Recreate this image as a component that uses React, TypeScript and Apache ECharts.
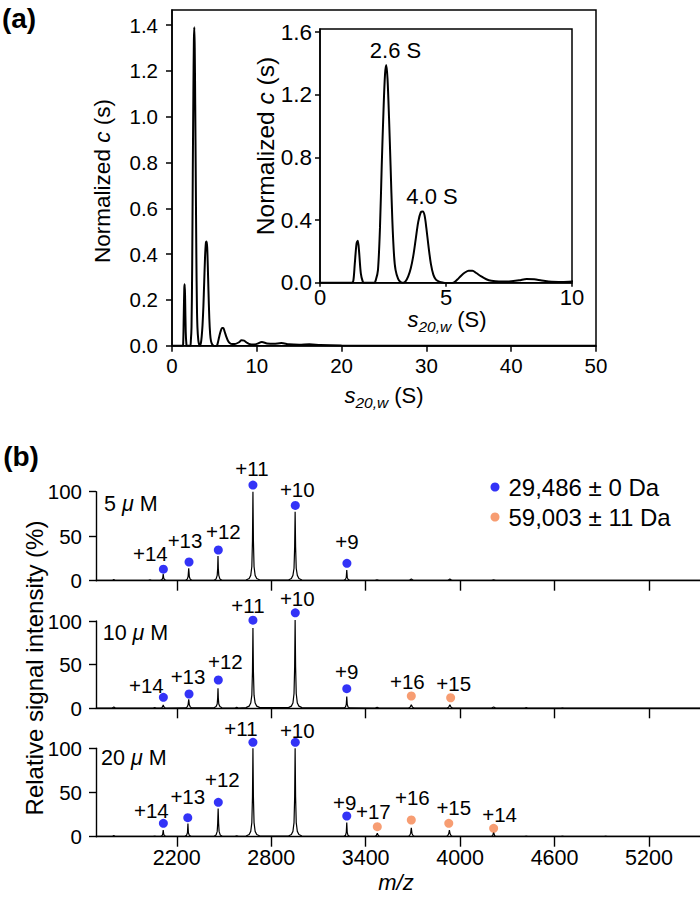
import React, { useEffect, useRef } from "react";
import * as echarts from "echarts";

// ---------------- Panel (a): c(s) distribution ----------------
const S_VALUES = [0, 1.25, 1.32, 1.38, 1.45, 1.5, 1.55, 1.62, 1.7, 1.75, 2.15, 2.22, 2.3, 2.38, 2.45, 2.52, 2.58, 2.63, 2.68, 2.74, 2.8, 2.87, 2.94, 3.0, 3.1, 3.2, 3.3, 3.4, 3.5, 3.6, 3.7, 3.8, 3.9, 4.0, 4.08, 4.15, 4.22, 4.3, 4.4, 4.5, 4.6, 4.75, 4.9, 5.1, 5.3, 5.45, 5.6, 5.75, 5.9, 6.05, 6.2, 6.4, 6.6, 6.8, 7.1, 7.5, 7.9, 8.2, 8.5, 8.8, 9.2, 9.6, 10.0, 10.6, 11.2, 12.0, 12.9, 13.8, 15, 16.2, 17.5, 20, 25, 50];
const C_VALUES = [0, 0, 0.01, 0.12, 0.25, 0.268, 0.2, 0.06, 0.005, 0, 0, 0.02, 0.08, 0.35, 0.75, 1.1, 1.33, 1.39, 1.3, 1.05, 0.75, 0.4, 0.17, 0.08, 0.025, 0.005, 0, 0.01, 0.04, 0.09, 0.17, 0.28, 0.39, 0.45, 0.455, 0.43, 0.35, 0.24, 0.12, 0.05, 0.02, 0.005, 0, -0.005, 0, 0.02, 0.045, 0.065, 0.077, 0.077, 0.062, 0.04, 0.022, 0.012, 0.007, 0.008, 0.015, 0.024, 0.022, 0.014, 0.006, 0.005, 0.008, 0.016, 0.01, 0.008, 0.012, 0.006, 0.004, 0.006, 0.003, 0.001, 0, 0];

const A_X_TICKS = [0, 10, 20, 30, 40, 50];
const A_Y_TICKS = [0, 0.2, 0.4, 0.6, 0.8, 1.0, 1.2, 1.4];
const INSET_X_TICKS = [0, 5, 10];
const INSET_Y_TICKS = [0, 0.4, 0.8, 1.2, 1.6];
const PEAK_NAMES = ["2.6 S", "4.0 S"];
const PEAK_S = [2.6, 4.05];
const PEAK_C = [1.39, 0.455];

// ---------------- Panel (b): native MS ----------------
const MZ_TICKS = [2200, 2800, 3400, 4000, 4600, 5200];
const INTENSITY_TICKS = [0, 50, 100];
const CONCENTRATIONS = ["5", "10", "20"];
const MONOMER_NAME = "29,486 \u00B1 0 Da";
const DIMER_NAME = "59,003 \u00B1 11 Da";

const SPECTRUM_5UM: [number, number][] = [
  [1687, 0.3], [1790, 0.3], [1800, 1.2], [1810, 0.3], [2020, 0.3], [2030, 0.9], [2040, 0.3],
  [2096, 0.4], [2106, 1.2], [2111, 3], [2114, 7.5], [2117, 3], [2122, 1.2], [2132, 0.4],
  [2256, 0.4], [2266, 1.5], [2272, 4.5], [2276, 14], [2280, 4.5], [2286, 1.5], [2296, 0.4],
  [2437, 0.5], [2450, 2], [2457, 6], [2460, 14], [2462, 27.7], [2464, 14], [2467, 6], [2474, 2], [2487, 0.5],
  [2640, 0.8], [2660, 2.5], [2670, 6], [2677, 16], [2681, 45], [2684, 100], [2687, 45], [2691, 16], [2698, 6], [2708, 2.5], [2728, 0.8],
  [2910, 0.8], [2928, 2.5], [2938, 6], [2945, 14], [2949, 38], [2952, 77.5], [2955, 38], [2959, 14], [2966, 6], [2976, 2.5], [2995, 0.8],
  [3262, 0.4], [3272, 1.5], [3277, 4], [3280, 12], [3283, 4], [3288, 1.5], [3298, 0.4],
  [3460, 0.3], [3472, 0.9], [3484, 0.3], [3676, 0.3], [3690, 2], [3704, 0.3],
  [3921, 0.3], [3935, 1.8], [3949, 0.3], [4200, 0.3], [4213, 1], [4226, 0.3], [5524, 0.3],
];

const SPECTRUM_10UM: [number, number][] = [
  [1687, 0.3], [1790, 0.3], [1800, 1.5], [1810, 0.3], [2050, 0.3], [2060, 0.8], [2070, 0.3],
  [2098, 0.3], [2107, 1], [2111, 2.2], [2114, 4], [2117, 2.2], [2121, 1], [2130, 0.3],
  [2256, 0.4], [2266, 1.4], [2272, 4], [2276, 10.3], [2280, 4], [2286, 1.4], [2296, 0.4],
  [2437, 0.5], [2450, 2], [2457, 5], [2460, 12], [2462, 23], [2464, 12], [2467, 5], [2474, 2], [2487, 0.5],
  [2570, 0.3], [2581, 1], [2592, 0.3],
  [2640, 0.8], [2660, 2.5], [2670, 6], [2677, 15], [2681, 42], [2684, 92], [2687, 42], [2691, 15], [2698, 6], [2708, 2.5], [2728, 0.8],
  [2910, 0.8], [2928, 2.5], [2938, 6], [2945, 17], [2949, 48], [2952, 101], [2955, 48], [2959, 17], [2966, 6], [2976, 2.5], [2995, 0.8],
  [3262, 0.4], [3272, 1.5], [3277, 4.5], [3280, 13.5], [3283, 4.5], [3288, 1.5], [3298, 0.4],
  [3460, 0.3], [3473, 1], [3486, 0.3],
  [3672, 0.3], [3682, 1.2], [3690, 4], [3698, 1.2], [3708, 0.3],
  [3917, 0.3], [3927, 1.2], [3935, 4], [3943, 1.2], [3953, 0.3],
  [4200, 0.3], [4213, 1.5], [4226, 0.3], [4410, 0.3], [4420, 0.8], [4430, 0.3],
  [4640, 0.3], [4650, 0.6], [4660, 0.3], [5524, 0.3],
];

const SPECTRUM_20UM: [number, number][] = [
  [1687, 0.3], [1790, 0.3], [1800, 1.2], [1810, 0.3], [2050, 0.3], [2060, 0.8], [2070, 0.3],
  [2098, 0.4], [2107, 1.2], [2111, 3], [2114, 7.6], [2117, 3], [2121, 1.2], [2130, 0.4],
  [2252, 0.4], [2262, 1.5], [2268, 4.5], [2271, 15], [2274, 4.5], [2280, 1.5], [2290, 0.4],
  [2437, 0.5], [2450, 2], [2457, 6], [2460, 15], [2463, 32], [2466, 15], [2469, 6], [2476, 2], [2489, 0.5],
  [2570, 0.3], [2581, 1], [2592, 0.3],
  [2640, 0.8], [2660, 2.5], [2670, 6], [2677, 16], [2681, 45], [2684, 100], [2687, 45], [2691, 16], [2698, 6], [2708, 2.5], [2728, 0.8],
  [2910, 0.8], [2928, 2.5], [2938, 6], [2945, 16], [2949, 45], [2952, 100], [2955, 45], [2959, 16], [2966, 6], [2976, 2.5], [2995, 0.8],
  [3262, 0.4], [3272, 1.5], [3277, 5], [3280, 16], [3283, 5], [3288, 1.5], [3298, 0.4],
  [3458, 0.3], [3467, 1.2], [3474, 3.8], [3481, 1.2], [3490, 0.3],
  [3670, 0.3], [3680, 1.5], [3686, 4], [3690, 10], [3694, 4], [3700, 1.5], [3710, 0.3],
  [3912, 0.3], [3922, 1.3], [3928, 3.5], [3932, 7.6], [3936, 3.5], [3942, 1.3], [3952, 0.3],
  [4198, 0.3], [4207, 1.2], [4213, 5], [4219, 1.2], [4228, 0.3],
  [4410, 0.3], [4420, 0.8], [4430, 0.3], [4640, 0.3], [4650, 0.8], [4660, 0.3],
  [4915, 0.3], [4925, 0.6], [4935, 0.3], [5524, 0.3],
];

const MONO_CHARGES = ["+14", "+13", "+12", "+11", "+10", "+9"];
const MONO_MZ_5UM = [2115, 2278, 2464, 2684, 2953, 3281];
const MONO_INT_5UM = [13, 21, 34.5, 107.5, 84.6, 19.5];
const MONO_MZ_10UM = [2115, 2278, 2464, 2684, 2953, 3280];
const MONO_INT_10UM = [12.6, 16.4, 32.4, 101, 109.4, 22.5];
const MONO_MZ_20UM = [2115, 2270, 2464, 2684, 2953, 3280];
const MONO_INT_20UM = [15.1, 21.5, 38.9, 106.8, 106.8, 23.4];

const DIMER_CHARGES_5UM: string[] = [];
const DIMER_MZ_5UM: number[] = [];
const DIMER_INT_5UM: number[] = [];
const DIMER_CHARGES_10UM = ["+16", "+15"];
const DIMER_MZ_10UM = [3690, 3940];
const DIMER_INT_10UM = [14.1, 12.1];
const DIMER_CHARGES_20UM = ["+17", "+16", "+15", "+14"];
const DIMER_MZ_20UM = [3474, 3690, 3928, 4213];
const DIMER_INT_20UM = [11.3, 18.9, 15.1, 9.5];

// ---------------- styling ----------------
const FONT = "'Liberation Sans', Arial, Helvetica, sans-serif";
const BLUE = "#0000f5";
const ORANGE = "#f5844f";
const BLACK = "#000000";

// label offsets (pixels, relative to the default "top" placement) for charge-state annotations
const LABEL_TOP_SHIFT = 15;
const MONO_LABEL_OFFSETS = [
  [[-13, -16], [-4, -22], [5, -18], [-1, -17], [2, -16], [0, -22]],
  [[-17, -12], [-1, -17], [7, -19], [-5, -15], [2, -14], [0, -17]],
  [[-12, -13], [0, -21], [4, -23], [-12, -14], [2, -12], [-2, -14]],
];
const DIMER_LABEL_OFFSETS = [
  [],
  [[-4, -14], [3, -14]],
  [[-4, -15], [1, -22], [5, -16], [6, -14]],
];

const B_GRIDS = [
  { top: 491.7, height: 89 },
  { top: 621, height: 87.3 },
  { top: 748.3, height: 88.4 },
];

const SPECTRA = [SPECTRUM_5UM, SPECTRUM_10UM, SPECTRUM_20UM];
const MONO_MZ = [MONO_MZ_5UM, MONO_MZ_10UM, MONO_MZ_20UM];
const MONO_INT = [MONO_INT_5UM, MONO_INT_10UM, MONO_INT_20UM];
const DIMER_CHARGES = [DIMER_CHARGES_5UM, DIMER_CHARGES_10UM, DIMER_CHARGES_20UM];
const DIMER_MZ = [DIMER_MZ_5UM, DIMER_MZ_10UM, DIMER_MZ_20UM];
const DIMER_INT = [DIMER_INT_5UM, DIMER_INT_10UM, DIMER_INT_20UM];

function axisLineStyle(width = 1.5) {
  return { show: true, lineStyle: { color: BLACK, width } };
}

function richLabel(size: number) {
  return {
    color: BLACK,
    opacity: 1,
    fontFamily: FONT,
    fontSize: size,
    textBorderWidth: 0,
    formatter: "{t|{b}}",
    rich: { t: { color: BLACK, fontSize: size, fontFamily: FONT, opacity: 1 } },
  };
}

function shifted(o: number[]) {
  return [o[0], o[1] + LABEL_TOP_SHIFT];
}

function buildOption() {
  const grids: any[] = [
    { left: 172, top: 10, width: 424, height: 335.7, show: true, borderColor: BLACK, borderWidth: 1.5, backgroundColor: "transparent" },
    { left: 320, top: 29, width: 252, height: 253.7, show: true, borderColor: BLACK, borderWidth: 1.5, backgroundColor: "#fff" },
  ];
  const xAxes: any[] = [
    {
      type: "value", gridIndex: 0, min: 0, max: 50,
      axisLine: axisLineStyle(), splitLine: { show: false },
      axisTick: { show: true, length: 6, lineStyle: { color: BLACK, width: 1.5 }, customValues: A_X_TICKS },
      axisLabel: { fontSize: 20.5, color: BLACK, margin: 9, fontFamily: FONT, customValues: A_X_TICKS, formatter: (v: number) => String(v) },
    },
    {
      type: "value", gridIndex: 1, min: 0, max: 10,
      axisLine: axisLineStyle(), splitLine: { show: false },
      axisTick: { show: true, length: 4, lineStyle: { color: BLACK, width: 1.5 }, customValues: INSET_X_TICKS },
      axisLabel: { fontSize: 22, color: BLACK, margin: 4, fontFamily: FONT, customValues: INSET_X_TICKS, formatter: (v: number) => String(v) },
    },
  ];
  const yAxes: any[] = [
    {
      type: "value", gridIndex: 0, min: 0, max: 1.4655,
      axisLine: axisLineStyle(), splitLine: { show: false },
      axisTick: { show: true, length: 6, lineStyle: { color: BLACK, width: 1.5 }, customValues: A_Y_TICKS },
      axisLabel: { fontSize: 20.5, color: BLACK, margin: 14, fontFamily: FONT, customValues: A_Y_TICKS, formatter: (v: number) => v.toFixed(1) },
    },
    {
      type: "value", gridIndex: 1, min: 0, max: 1.62,
      axisLine: axisLineStyle(), splitLine: { show: false },
      axisTick: { show: true, length: 5, lineStyle: { color: BLACK, width: 1.5 }, customValues: INSET_Y_TICKS },
      axisLabel: { fontSize: 22.5, color: BLACK, margin: 8, fontFamily: FONT, customValues: INSET_Y_TICKS, formatter: (v: number) => v.toFixed(1) },
    },
  ];

  const curve = S_VALUES.map((s, i) => [s, C_VALUES[i]]);
  const series: any[] = [
    {
      type: "line", xAxisIndex: 0, yAxisIndex: 0, data: curve, showSymbol: false, smooth: 0.3,
      lineStyle: { color: BLACK, width: 2 }, silent: true,
    },
    {
      type: "line", xAxisIndex: 1, yAxisIndex: 1, data: curve, showSymbol: false, smooth: 0.3,
      lineStyle: { color: BLACK, width: 2 }, silent: true, clip: true,
    },
    {
      type: "scatter", xAxisIndex: 1, yAxisIndex: 1, symbolSize: 1,
      itemStyle: { color: BLACK, opacity: 0 },
      data: PEAK_NAMES.map((n, i) => ({ name: n, value: [PEAK_S[i], PEAK_C[i]] })),
      label: { show: true, position: "top", distance: 0, offset: [10, -3], ...richLabel(22) },
      silent: true,
    },
  ];

  B_GRIDS.forEach((g, k) => {
    const gi = k + 2;
    grids.push({ left: 96, top: g.top, width: 604, height: g.height });
    const isBottom = k === 2;
    xAxes.push({
      type: "value", gridIndex: gi, min: 1687, max: 5524,
      axisLine: axisLineStyle(1.4), splitLine: { show: false },
      axisTick: { show: true, length: 10, lineStyle: { color: BLACK, width: 1.4 }, customValues: MZ_TICKS },
      axisLabel: { show: isBottom, fontSize: 21.5, color: BLACK, margin: 10, fontFamily: FONT, customValues: MZ_TICKS, formatter: (v: number) => String(v) },
    });
    yAxes.push({
      type: "value", gridIndex: gi, min: 0, max: 100,
      axisLine: axisLineStyle(1.4), splitLine: { show: false },
      axisTick: { show: true, length: 7, lineStyle: { color: BLACK, width: 1.4 }, customValues: INTENSITY_TICKS },
      axisLabel: { fontSize: 20.5, color: BLACK, margin: 14, fontFamily: FONT, customValues: INTENSITY_TICKS, formatter: (v: number) => String(v) },
    });
    series.push({
      type: "line", xAxisIndex: gi, yAxisIndex: gi, data: SPECTRA[k], showSymbol: false, clip: false,
      lineStyle: { color: BLACK, width: 1.2 }, silent: true,
    });
    series.push({
      type: "scatter", name: MONOMER_NAME, xAxisIndex: gi, yAxisIndex: gi, clip: false, symbolSize: 9,
      itemStyle: { color: BLUE }, z: 5, silent: true,
      data: MONO_CHARGES.map((c, i) => ({
        name: c, value: [MONO_MZ[k][i], MONO_INT[k][i]],
        label: { offset: shifted(MONO_LABEL_OFFSETS[k][i]) },
      })),
      label: { show: true, position: "top", distance: 0, ...richLabel(20.5) },
    });
    series.push({
      type: "scatter", name: DIMER_NAME, xAxisIndex: gi, yAxisIndex: gi, clip: false, symbolSize: 9,
      itemStyle: { color: ORANGE }, z: 5, silent: true,
      data: DIMER_CHARGES[k].map((c, i) => ({
        name: c, value: [DIMER_MZ[k][i], DIMER_INT[k][i]],
        label: { offset: shifted(DIMER_LABEL_OFFSETS[k][i] as number[]) },
      })),
      label: { show: true, position: "top", distance: 0, ...richLabel(20.5) },
    });
  });

  const txt = (extra: any) => ({ type: "text", silent: true, ...extra });
  const plain = { fontSize: 22, fontFamily: FONT, fill: BLACK };
  const graphic: any[] = [
    txt({ x: 19, y: 18, style: { text: "(a)", fontSize: 28, fontWeight: "bold", fontFamily: FONT, fill: BLACK, align: "center", verticalAlign: "middle" } }),
    txt({ x: 21, y: 456, style: { text: "(b)", fontSize: 28, fontWeight: "bold", fontFamily: FONT, fill: BLACK, align: "center", verticalAlign: "middle" } }),
    txt({
      x: 102, y: 181, rotation: Math.PI / 2,
      style: {
        text: "{n|Normalized }{i|c}{n| (s)}", align: "center", verticalAlign: "middle", fill: BLACK,
        rich: { n: { ...plain, fontSize: 22.5 }, i: { ...plain, fontSize: 22.5, fontStyle: "italic" } },
      },
    }),
    txt({
      x: 265, y: 146, rotation: Math.PI / 2,
      style: {
        text: "{n|Normalized }{i|c}{n| (s)}", align: "center", verticalAlign: "middle", fill: BLACK,
        rich: { n: { ...plain, fontSize: 24.5 }, i: { ...plain, fontSize: 24.5, fontStyle: "italic" } },
      },
    }),
    txt({
      x: 384, y: 395,
      style: {
        text: "{s|s}{sub|20,w}{n| (S)}", align: "center", verticalAlign: "middle", fill: BLACK,
        rich: { s: { ...plain, fontStyle: "italic" }, sub: { ...plain, fontSize: 15.5, fontStyle: "italic", padding: [14, 0, 0, 0] }, n: { ...plain } },
      },
    }),
    txt({
      x: 447, y: 319,
      style: {
        text: "{s|s}{sub|20,w}{n| (S)}", align: "center", verticalAlign: "middle", fill: BLACK,
        rich: { s: { ...plain, fontStyle: "italic" }, sub: { ...plain, fontSize: 15.5, fontStyle: "italic", padding: [14, 0, 0, 0] }, n: { ...plain } },
      },
    }),
    txt({
      x: 34, y: 668, rotation: Math.PI / 2,
      style: { text: "Relative signal intensity (%)", fontSize: 24, fontFamily: FONT, fill: BLACK, align: "center", verticalAlign: "middle" },
    }),
    txt({
      x: 396, y: 882,
      style: { text: "m/z", fontSize: 22, fontStyle: "italic", fontFamily: FONT, fill: BLACK, align: "center", verticalAlign: "middle" },
    }),
  ];
  const concY = [504, 632.7, 758.3];
  const concX = [104, 102.7, 101];
  CONCENTRATIONS.forEach((c, k) => {
    graphic.push(txt({
      x: concX[k], y: concY[k],
      style: {
        text: `{n|${c} }{m|\u03BC}{n| M}`, align: "left", verticalAlign: "middle", fill: BLACK,
        rich: { n: { fontSize: 21.5, fontFamily: FONT, fill: BLACK }, m: { fontSize: 21.5, fontFamily: FONT, fontStyle: "italic", fill: BLACK } },
      },
    }));
  });

  return {
    animation: false,
    backgroundColor: "#fff",
    textStyle: { fontFamily: FONT },
    grid: grids,
    xAxis: xAxes,
    yAxis: yAxes,
    series,
    legend: {
      data: [MONOMER_NAME, DIMER_NAME],
      orient: "vertical",
      left: 490.5,
      top: 475,
      padding: 0,
      itemGap: 6,
      itemWidth: 17,
      itemHeight: 9,
      icon: "circle",
      selectedMode: false,
      textStyle: { fontSize: 24, color: BLACK, fontFamily: FONT },
    },
    graphic,
  };
}

export default function App() {
  const ref = useRef<HTMLDivElement>(null);
  useEffect(() => {
    document.body.style.margin = "0";
    const chart = echarts.init(ref.current as HTMLDivElement, null, { renderer: "svg" });
    chart.setOption(buildOption() as any);
    return () => chart.dispose();
  }, []);
  return <div ref={ref} style={{ width: 700, height: 897 }} />;
}
